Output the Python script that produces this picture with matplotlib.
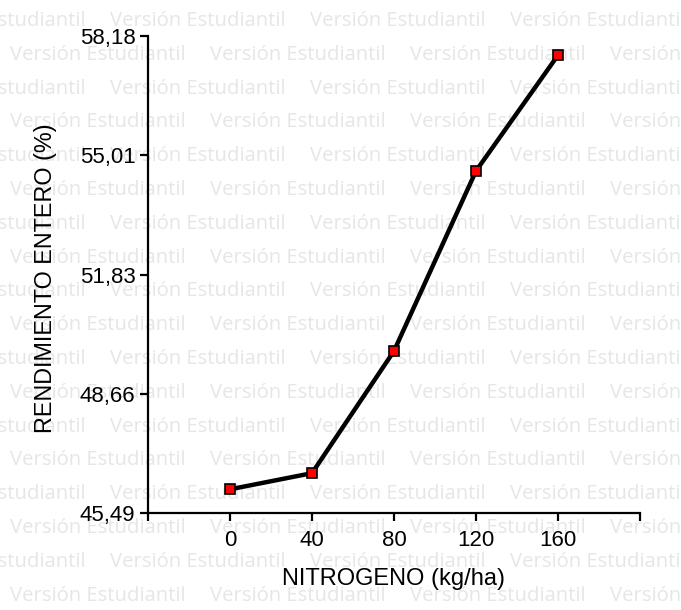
import matplotlib
matplotlib.use("Agg")
import matplotlib.pyplot as plt

# ---- data ----
nitrogeno = [0, 40, 80, 120, 160]
rendimiento = [46.12, 46.55, 49.80, 54.59, 57.67]
yticks = [45.49, 48.66, 51.83, 55.01, 58.18]
ytick_labels = ["45,49", "48,66", "51,83", "55,01", "58,18"]
xticks = [-40, 0, 40, 80, 120, 160, 200]
xtick_labels = ["", "0", "40", "80", "120", "160", ""]
xlabel = "NITROGENO (kg/ha)"
ylabel = "RENDIMIENTO ENTERO (%)"
watermark = "Versión Estudiantil"

plt.rcParams['font.family'] = ['Liberation Sans', 'DejaVu Sans']

W, H = 681, 610
fig = plt.figure(figsize=(W / 100, H / 100), dpi=100)
fig.patch.set_facecolor('white')

# watermark rows
for i in range(18):
    yc = 21 + 33.8 * i
    x0 = 110 if i % 2 == 0 else 10
    for k in range(-1, 4):
        xs = x0 + 200 * k
        fig.text(xs / W, 1 - yc / H, watermark, fontsize=14.6, color='#e6e6e6',
                 family=['Open Sans', 'DejaVu Sans'],
                 ha='left', va='center', zorder=-5)

left, right = 148 / W, 640 / W
bottom, top = 1 - 513 / H, 1 - 36 / H
ax = fig.add_axes([left, bottom, right - left, top - bottom])
ax.patch.set_alpha(0)

ax.plot(nitrogeno, rendimiento, color='black', lw=3.2, marker='s', ms=7.8,
        mfc='#ff0000', mec='black', mew=1.2, zorder=3, clip_on=False)

ax.set_xlim(-40, 200)
ax.set_ylim(45.49, 58.18)
ax.set_xticks(xticks)
ax.set_xticklabels(xtick_labels)
ax.set_yticks(yticks)
ax.set_yticklabels(ytick_labels)

for s in ['top', 'right']:
    ax.spines[s].set_visible(False)
for s in ['left', 'bottom']:
    ax.spines[s].set_linewidth(1.6)

ax.tick_params(axis='both', direction='out', length=6, width=1.6,
               labelsize=16, colors='black')
ax.tick_params(axis='y', pad=3)
ax.tick_params(axis='x', pad=6)

ax.set_xlabel(xlabel, fontsize=17)
ax.set_ylabel(ylabel, fontsize=16.8)
ax.xaxis.set_label_coords((393 - 148) / 492, -(585 - 513) / 477, transform=ax.transAxes)
ax.xaxis.label.set_va('baseline')
ax.yaxis.set_label_coords((46 - 148) / 492, (513 - 278) / 477, transform=ax.transAxes)
ax.yaxis.label.set_va('center')

fig.savefig("out.png", dpi=100)
